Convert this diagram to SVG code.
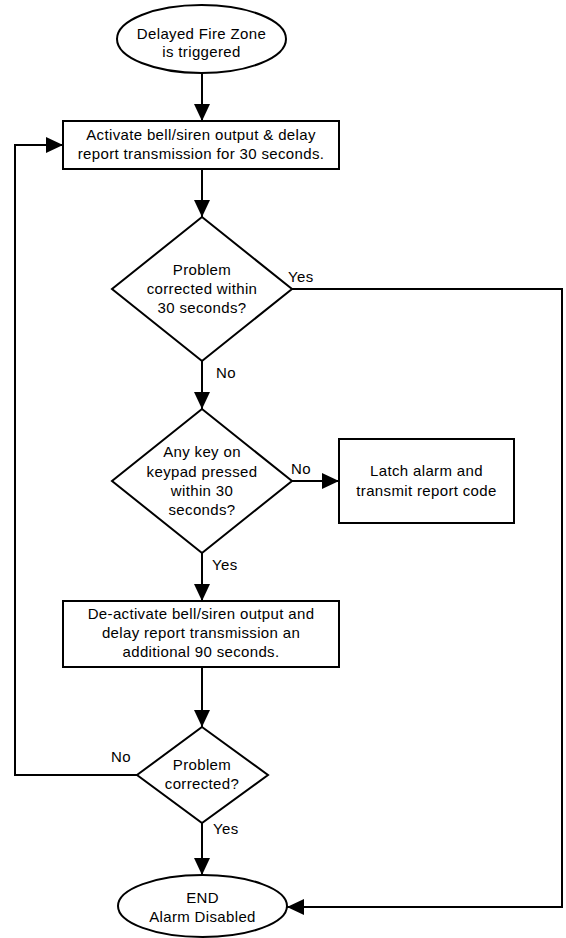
<svg xmlns="http://www.w3.org/2000/svg" width="566" height="938" viewBox="0 0 566 938">
<style>
.s{fill:#fff;stroke:#000;stroke-width:2}
.c{fill:none;stroke:#000;stroke-width:2}
text{font-family:"Liberation Sans",Arial,sans-serif;font-size:15px;letter-spacing:0.35px;fill:#000}
.m{text-anchor:middle}
</style>
<defs>
<marker id="ah" markerUnits="userSpaceOnUse" markerWidth="17" markerHeight="16" refX="17" refY="8" orient="auto">
<path d="M0,0 L17,8 L0,16 z" fill="#000"/>
</marker>
</defs>
<rect width="566" height="938" fill="#fff"/>
<g id="connectors">
<path class="c" d="M202,73 V121" marker-end="url(#ah)"/>
<path class="c" d="M202,169 V217" marker-end="url(#ah)"/>
<path class="c" d="M202,361 V409" marker-end="url(#ah)"/>
<path class="c" d="M292,481 H339" marker-end="url(#ah)"/>
<path class="c" d="M202,553 V601" marker-end="url(#ah)"/>
<path class="c" d="M202,667 V727" marker-end="url(#ah)"/>
<path class="c" d="M202,823 V875" marker-end="url(#ah)"/>
<path class="c" d="M292,289 H562 V907 H287" marker-end="url(#ah)"/>
<path class="c" d="M137,775 H15 V145 H63" marker-end="url(#ah)"/>
<text x="288" y="282">Yes</text>
<text x="216" y="378">No</text>
<text x="291" y="474">No</text>
<text x="212" y="570">Yes</text>
<text x="111" y="762">No</text>
<text x="213" y="834">Yes</text>
</g>
<g id="start">
<ellipse class="s" cx="201.5" cy="39" rx="84.5" ry="34"/>
<text class="m" x="201.5" y="39">Delayed Fire Zone</text>
<text class="m" x="201.5" y="57">is triggered</text>
</g>
<g id="activate">
<rect class="s" x="63" y="121" width="276" height="48"/>
<text class="m" x="201" y="140">Activate bell/siren output &amp; delay</text>
<text class="m" x="201" y="159">report transmission for 30 seconds.</text>
</g>
<g id="decision1">
<polygon class="s" points="202,217 292,289 202,361 112,289"/>
<text class="m" x="202" y="275">Problem</text>
<text class="m" x="202" y="294">corrected within</text>
<text class="m" x="202" y="313">30 seconds?</text>
</g>
<g id="decision2">
<polygon class="s" points="202,409 292,481 202,553 112,481"/>
<text class="m" x="202" y="457">Any key on</text>
<text class="m" x="202" y="477">keypad pressed</text>
<text class="m" x="202" y="496">within 30</text>
<text class="m" x="202" y="515">seconds?</text>
</g>
<g id="latch">
<rect class="s" x="339" y="439" width="175" height="84"/>
<text class="m" x="426.5" y="476">Latch alarm and</text>
<text class="m" x="426.5" y="496">transmit report code</text>
</g>
<g id="deactivate">
<rect class="s" x="63" y="601" width="276" height="66"/>
<text class="m" x="201" y="619">De-activate bell/siren output and</text>
<text class="m" x="201" y="638">delay report transmission an</text>
<text class="m" x="201" y="657">additional 90 seconds.</text>
</g>
<g id="decision3">
<polygon class="s" points="202,727 268,775 202,823 137,775"/>
<text class="m" x="202" y="770">Problem</text>
<text class="m" x="202" y="789">corrected?</text>
</g>
<g id="end">
<ellipse class="s" cx="202.5" cy="906" rx="84.5" ry="31"/>
<text class="m" x="202.5" y="903">END</text>
<text class="m" x="202.5" y="922">Alarm Disabled</text>
</g>
</svg>
